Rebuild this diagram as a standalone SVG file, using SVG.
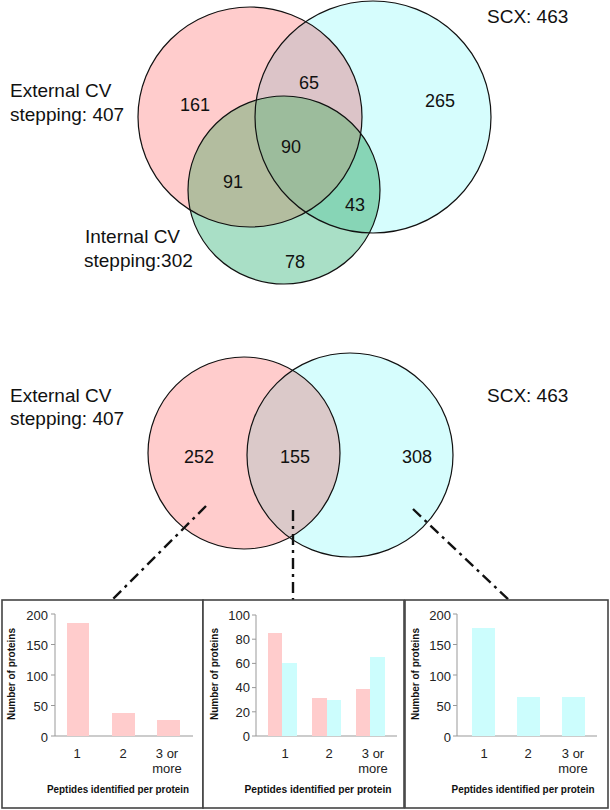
<svg xmlns="http://www.w3.org/2000/svg" width="610" height="810" viewBox="0 0 610 810">
<style>
.lbl{font-family:"Liberation Sans",Arial,sans-serif;font-size:19px;fill:#111}
.num{font-family:"Liberation Sans",Arial,sans-serif;font-size:18px;fill:#111;text-anchor:middle}
.ol{fill:none;stroke:#111;stroke-width:1.2}
.box{fill:#fff;stroke:#444;stroke-width:1.6}
.ax{stroke:#999;stroke-width:1;fill:none}
.tk{font-family:"Liberation Sans",Arial,sans-serif;font-size:13px;fill:#222;text-anchor:end}
.xt{font-family:"Liberation Sans",Arial,sans-serif;font-size:13px;fill:#222;text-anchor:middle}
.ttl{font-family:"Liberation Sans",Arial,sans-serif;font-size:10px;font-weight:bold;fill:#111;text-anchor:middle}
.pk{fill:#ffcccc}
.cy{fill:#ccfdfd}
.dd{fill:none;stroke:#111;stroke-width:2.4;stroke-dasharray:11 5 3 5}
</style>
<defs>
<clipPath id="cR"><ellipse cx="250" cy="117" rx="112" ry="110"/></clipPath>
<clipPath id="cC"><ellipse cx="373" cy="117" rx="118" ry="116"/></clipPath>
<clipPath id="bR"><circle cx="244" cy="453" r="96"/></clipPath>
<linearGradient id="sep" x1="0" x2="1" y1="0" y2="0">
<stop offset="0" stop-color="#6d8db5"/><stop offset="0.5" stop-color="#78b3a3"/><stop offset="1" stop-color="#6d8db5"/>
</linearGradient>
</defs>
<rect width="610" height="810" fill="#fff"/>

<g id="venn-top">
<g id="top-external">
<ellipse cx="250" cy="117" rx="112" ry="110" fill="#ffcccc"/>
</g>
<g id="top-scx">
<ellipse cx="373" cy="117" rx="118" ry="116" fill="#d6fdfd"/>
<ellipse cx="373" cy="117" rx="118" ry="116" fill="#dcc4c8" clip-path="url(#cR)"/>
</g>
<g id="top-internal">
<ellipse cx="284" cy="190" rx="96" ry="94" fill="#a9dfc6"/>
<ellipse cx="284" cy="190" rx="96" ry="94" fill="#b3bd9f" clip-path="url(#cR)"/>
<ellipse cx="284" cy="190" rx="96" ry="94" fill="#87d5b6" clip-path="url(#cC)"/>
<g clip-path="url(#cR)"><ellipse cx="284" cy="190" rx="96" ry="94" fill="#9cbc9c" clip-path="url(#cC)"/></g>
</g>
<ellipse class="ol" cx="250" cy="117" rx="112" ry="110"/>
<ellipse class="ol" cx="373" cy="117" rx="118" ry="116"/>
<ellipse class="ol" cx="284" cy="190" rx="96" ry="94"/>
<text class="lbl" x="10" y="97">External CV</text>
<text class="lbl" x="10" y="121">stepping: 407</text>
<text class="lbl" x="487" y="23">SCX: 463</text>
<text class="lbl" x="85" y="243">Internal CV</text>
<text class="lbl" x="84" y="267">stepping:302</text>
<text class="num" x="195" y="111">161</text>
<text class="num" x="309" y="89">65</text>
<text class="num" x="440" y="107">265</text>
<text class="num" x="291" y="153">90</text>
<text class="num" x="233" y="188">91</text>
<text class="num" x="355" y="211">43</text>
<text class="num" x="295" y="268">78</text>
</g>

<line id="separator" x1="94" y1="321" x2="528" y2="321" stroke="url(#sep)" stroke-width="1.6"/>

<g id="venn-bottom">
<g id="bot-external"><circle cx="244" cy="453" r="96" fill="#ffcccc"/></g>
<g id="bot-scx">
<ellipse cx="350" cy="455" rx="103" ry="102" fill="#d6fdfd"/>
<ellipse cx="350" cy="455" rx="103" ry="102" fill="#dbc9c9" clip-path="url(#bR)"/>
</g>
<circle class="ol" cx="244" cy="453" r="96"/>
<ellipse class="ol" cx="350" cy="455" rx="103" ry="102"/>
<text class="lbl" x="10" y="402">External CV</text>
<text class="lbl" x="10" y="425">stepping: 407</text>
<text class="lbl" x="487" y="402">SCX: 463</text>
<text class="num" x="199" y="463">252</text>
<text class="num" x="295" y="463">155</text>
<text class="num" x="417" y="463">308</text>
</g>

<g id="connectors">
<line class="dd" x1="206" y1="506" x2="112" y2="600"/>
<line class="dd" x1="293" y1="510" x2="293" y2="600"/>
<line class="dd" x1="413" y1="509" x2="510" y2="601"/>
</g>

<g id="chart-external">
<rect class="box" x="2" y="600" width="201" height="208"/>
<path class="ax" d="M55 614V736H193M51 614H55M51 644.5H55M51 675H55M51 705.5H55M51 736H55"/>
<text class="tk" x="48" y="619.5">200</text>
<text class="tk" x="48" y="650">150</text>
<text class="tk" x="48" y="680.5">100</text>
<text class="tk" x="48" y="711">50</text>
<text class="tk" x="48" y="741.5">0</text>
<rect class="pk" x="67" y="623" width="22" height="113"/>
<rect class="pk" x="112" y="713" width="23" height="23"/>
<rect class="pk" x="157" y="720" width="23" height="16"/>
<text class="xt" x="77" y="758">1</text>
<text class="xt" x="123" y="758">2</text>
<text class="xt" x="167" y="758">3 or</text>
<text class="xt" x="167" y="773">more</text>
<text class="ttl" x="118" y="793" textLength="142" lengthAdjust="spacingAndGlyphs">Peptides identified per protein</text>
<text class="ttl" transform="translate(15 674) rotate(-90)" textLength="92" lengthAdjust="spacingAndGlyphs">Number of proteins</text>
</g>

<g id="chart-overlap">
<rect class="box" x="203" y="600" width="201" height="208"/>
<path class="ax" d="M256 615V736H397M252 615H256M252 639.2H256M252 663.4H256M252 687.6H256M252 711.8H256M252 736H256"/>
<text class="tk" x="250" y="620">100</text>
<text class="tk" x="250" y="644">80</text>
<text class="tk" x="250" y="668">60</text>
<text class="tk" x="250" y="692">40</text>
<text class="tk" x="250" y="717">20</text>
<text class="tk" x="250" y="741">0</text>
<rect class="pk" x="268" y="633" width="14" height="103"/>
<rect class="cy" x="282" y="663" width="15" height="73"/>
<rect class="pk" x="312" y="698" width="15" height="38"/>
<rect class="cy" x="327" y="700" width="14" height="36"/>
<rect class="pk" x="356" y="689" width="14" height="47"/>
<rect class="cy" x="370" y="657" width="15" height="79"/>
<text class="xt" x="285" y="758">1</text>
<text class="xt" x="329" y="758">2</text>
<text class="xt" x="373" y="758">3 or</text>
<text class="xt" x="373" y="773">more</text>
<text class="ttl" x="318" y="793" textLength="147" lengthAdjust="spacingAndGlyphs">Peptides identified per protein</text>
<text class="ttl" transform="translate(218 674) rotate(-90)" textLength="92" lengthAdjust="spacingAndGlyphs">Number of proteins</text>
</g>

<g id="chart-scx">
<rect class="box" x="405" y="600" width="203" height="208"/>
<path class="ax" d="M457 614V736H597M453 614H457M453 644.5H457M453 675H457M453 705.5H457M453 736H457"/>
<text class="tk" x="451" y="619.5">200</text>
<text class="tk" x="451" y="650">150</text>
<text class="tk" x="451" y="680.5">100</text>
<text class="tk" x="451" y="711">50</text>
<text class="tk" x="451" y="741.5">0</text>
<rect class="cy" x="472" y="628" width="23" height="108"/>
<rect class="cy" x="517" y="697" width="23" height="39"/>
<rect class="cy" x="562" y="697" width="23" height="39"/>
<text class="xt" x="484" y="758">1</text>
<text class="xt" x="528" y="758">2</text>
<text class="xt" x="573" y="758">3 or</text>
<text class="xt" x="573" y="773">more</text>
<text class="ttl" x="523" y="793" textLength="143" lengthAdjust="spacingAndGlyphs">Peptides identified per protein</text>
<text class="ttl" transform="translate(419 674) rotate(-90)" textLength="92" lengthAdjust="spacingAndGlyphs">Number of proteins</text>
</g>
</svg>
